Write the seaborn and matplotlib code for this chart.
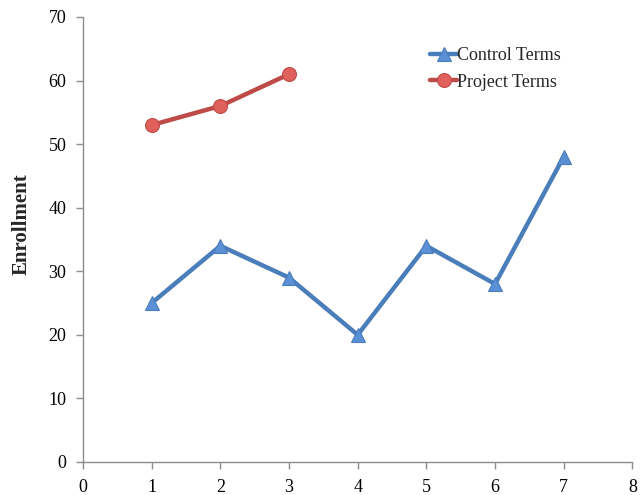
import matplotlib
matplotlib.use("Agg")
import matplotlib.pyplot as plt
import seaborn as sns
import pandas as pd

control_terms = [1, 2, 3, 4, 5, 6, 7]
control_values = [25, 34, 29, 20, 34, 28, 48]
project_terms = [1, 2, 3]
project_values = [53, 56, 61]
x_ticks = [0, 1, 2, 3, 4, 5, 6, 7, 8]
y_ticks = [0, 10, 20, 30, 40, 50, 60, 70]

df = pd.concat([
    pd.DataFrame({"term": control_terms, "enrollment": control_values, "series": "Control Terms"}),
    pd.DataFrame({"term": project_terms, "enrollment": project_values, "series": "Project Terms"}),
])

sns.set_theme(style="white")
plt.rcParams["font.family"] = ["Liberation Serif", "DejaVu Serif"]

fig = plt.figure(figsize=(6.41, 4.95), dpi=100)
ax = fig.add_axes([0.1295, 0.0667, 0.857, 0.899])

palette = {"Control Terms": "#4A7EBB", "Project Terms": "#BE4B48"}
marker_face = {"Control Terms": "#5B8FD6", "Project Terms": "#E0605C"}
markers = {"Control Terms": "^", "Project Terms": "o"}

sns.lineplot(data=df, x="term", y="enrollment", hue="series", style="series",
             palette=palette, markers=markers, dashes=False, linewidth=3.2,
             markersize=10, ax=ax, legend=False)

for line, name in zip(ax.get_lines(), ["Control Terms", "Project Terms"]):
    line.set_markerfacecolor(marker_face[name])
    line.set_markeredgecolor(palette[name])
    line.set_markeredgewidth(0.8)
    line.set_label(name)

ax.set_xlim(0, 8)
ax.set_ylim(0, 70)
ax.set_xticks(x_ticks)
ax.set_yticks(y_ticks)
ax.set_xlabel("")
ax.set_ylabel("Enrollment", fontsize=15, fontweight="bold")
ax.yaxis.set_label_coords(-0.094, 0.535)

for side in ["top", "right"]:
    ax.spines[side].set_visible(False)
for side in ["left", "bottom"]:
    ax.spines[side].set_color("#8C8C8C")
    ax.spines[side].set_linewidth(1.0)
ax.tick_params(axis="both", which="major", direction="out", length=5, width=1,
               color="#8C8C8C", labelsize=13, labelcolor="black", pad=7,
               bottom=True, left=True)
ax.grid(False)

ax.legend(handles=ax.get_lines(), loc="upper left", bbox_to_anchor=(0.619, 0.948),
          frameon=False, fontsize=13, handlelength=1.5, handletextpad=0.0,
          labelspacing=0.52, borderaxespad=0)

fig.savefig("out.png", dpi=100)
